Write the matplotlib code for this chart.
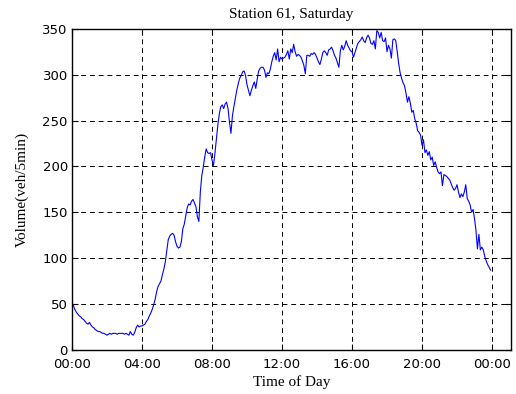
import numpy as np
import matplotlib
matplotlib.use('Agg')
from matplotlib import pyplot as plt

# 5-minute traffic volume, station 61, Saturday (288 samples, read hour by hour)
HOURLY_VOLUMES = [
    [52, 48, 44, 41, 39, 37, 36, 34, 33, 31, 29, 28],
    [30, 27, 25, 24, 22, 21, 20, 20, 19, 18, 18, 17],
    [16, 17, 18, 17, 18, 18, 18, 17, 18, 18, 18, 18],
    [17, 18, 17, 16, 20, 17, 16, 19, 24, 27, 25, 26],
    [26, 27, 28, 31, 33, 37, 40, 44, 49, 55, 63, 69],
    [72, 75, 82, 88, 96, 108, 120, 124, 126, 127, 125, 118],
    [113, 111, 112, 118, 132, 137, 146, 155, 159, 158, 162, 164],
    [160, 156, 145, 140, 172, 190, 199, 210, 219, 215, 214, 215],
    [207, 201, 214, 230, 245, 257, 265, 267, 263, 268, 270, 263],
    [248, 236, 255, 265, 274, 283, 290, 296, 299, 303, 304, 299],
    [289, 283, 277, 283, 288, 292, 285, 295, 304, 307, 308, 308],
    [305, 297, 302, 301, 306, 314, 320, 324, 316, 328, 314, 319],
    [317, 318, 319, 322, 326, 317, 328, 324, 333, 325, 320, 322],
    [321, 319, 315, 310, 301, 321, 321, 320, 323, 322, 324, 322],
    [318, 314, 311, 317, 324, 326, 324, 321, 327, 328, 330, 326],
    [321, 318, 313, 308, 326, 332, 327, 331, 337, 332, 329, 326],
    [325, 319, 324, 329, 334, 336, 338, 341, 337, 335, 340, 343],
    [340, 334, 333, 337, 328, 348, 346, 340, 346, 337, 336, 340],
    [325, 332, 328, 318, 338, 339, 337, 325, 312, 302, 296, 291],
    [288, 280, 270, 276, 269, 259, 261, 252, 247, 239, 237, 234],
    [223, 229, 215, 218, 212, 216, 207, 210, 201, 205, 199, 194],
    [192, 194, 179, 191, 190, 189, 187, 185, 181, 177, 174, 176],
    [180, 172, 166, 170, 167, 172, 180, 165, 162, 158, 150, 153],
    [143, 130, 110, 126, 109, 112, 109, 102, 97, 93, 90, 87],
]
volume = np.array(HOURLY_VOLUMES).ravel()
hours = np.arange(len(volume)) * 5 / 60.0

TICK_HOURS = [0, 4, 8, 12, 16, 20, 24]
TICK_LABELS = ['00:00', '04:00', '08:00', '12:00', '16:00', '20:00', '00:00']
Y_TICKS = [0, 50, 100, 150, 200, 250, 300, 350]

fig = plt.figure(figsize=(5.16, 3.94), dpi=100)
ax = fig.add_axes([0.1395, 0.112, 0.851, 0.815])
ax.plot(hours, volume, color='#0000ff', linewidth=0.8)

ax.set_xlim(0, 25.09)
ax.set_ylim(0, 350)
ax.set_xticks(TICK_HOURS)
ax.set_xticklabels(TICK_LABELS)
ax.set_yticks(Y_TICKS)
ax.tick_params(direction='in', length=4, width=0.8, top=True, right=True,
               labelsize=9.5)
ax.tick_params(axis='x', pad=6)
ax.tick_params(axis='y', pad=3)
for spine in ax.spines.values():
    spine.set_linewidth(1.0)
ax.grid(color='k', linestyle=(0, (5, 4)), linewidth=0.7)

serif = 'Liberation Serif'
ax.set_title('Station 61, Saturday', fontfamily=serif, fontsize=11, pad=8)
ax.set_xlabel('Time of Day', fontfamily=serif, fontsize=11, labelpad=3)
ax.set_ylabel('Volume(veh/5min)', fontfamily=serif, fontsize=11, labelpad=10)

fig.savefig('out.png', dpi=100)
